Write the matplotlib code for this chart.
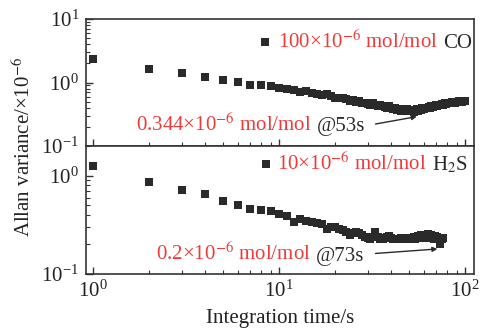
import matplotlib
matplotlib.use("Agg")
import matplotlib.pyplot as plt
from matplotlib.ticker import LogLocator, NullFormatter

plt.rcParams['font.family'] = ['Liberation Serif', 'DejaVu Serif']
plt.rcParams['mathtext.fontset'] = 'stix'

# ---------------- data ----------------
co_time = list(range(1, 101))
co_allan = [2.36, 1.66, 1.39, 1.23, 1.11, 1.03, 0.92, 0.91, 0.875, 0.81,
            0.78, 0.76, 0.72, 0.73, 0.69, 0.66, 0.64, 0.65, 0.61, 0.58,
            0.56, 0.57, 0.55, 0.52, 0.53, 0.50, 0.51, 0.48, 0.47, 0.46,
            0.45, 0.47, 0.44, 0.43, 0.45, 0.42, 0.41, 0.40, 0.42, 0.39,
            0.38, 0.40, 0.37, 0.38, 0.36, 0.38, 0.37, 0.36, 0.38, 0.36,
            0.37, 0.36, 0.344, 0.37, 0.38, 0.36, 0.38, 0.37, 0.39, 0.38,
            0.40, 0.39, 0.40, 0.41, 0.40, 0.42, 0.41, 0.43, 0.42, 0.44,
            0.43, 0.44, 0.45, 0.44, 0.46, 0.45, 0.46, 0.47, 0.46, 0.47,
            0.48, 0.47, 0.48, 0.47, 0.49, 0.48, 0.49, 0.48, 0.50, 0.49,
            0.50, 0.49, 0.51, 0.50, 0.52, 0.50, 0.51, 0.52, 0.51, 0.52]

h2s_time = list(range(1, 77))
h2s_allan = [1.27, 0.87, 0.72, 0.65, 0.56, 0.51, 0.46, 0.45, 0.44, 0.41,
             0.39, 0.34, 0.365, 0.35, 0.34, 0.33, 0.32, 0.29, 0.30, 0.30,
             0.29, 0.28, 0.27, 0.25, 0.26, 0.27, 0.26, 0.25, 0.24, 0.235,
             0.23, 0.24, 0.27, 0.24, 0.23, 0.225, 0.235, 0.24, 0.245, 0.235,
             0.23, 0.225, 0.23, 0.23, 0.235, 0.225, 0.23, 0.235, 0.23, 0.225,
             0.23, 0.235, 0.24, 0.23, 0.235, 0.245, 0.24, 0.25, 0.235, 0.245,
             0.25, 0.24, 0.255, 0.245, 0.235, 0.25, 0.24, 0.23, 0.245, 0.235,
             0.24, 0.225, 0.20, 0.225, 0.23, 0.235]

co_legend = [("100×10$^{-6}$ mol/mol", "red"), ("CO", "black")]
h2s_legend = [("10×10$^{-6}$ mol/mol", "red"), ("H$_2$S", "black")]
co_note = [("0.344×10$^{-6}$ mol/mol", "red"), ("@53s", "black")]
h2s_note = [("0.2×10$^{-6}$ mol/mol", "red"), ("@73s", "black")]

RED = '#f03a3a'
DARK = '#2a2a2a'
COLMAP = {"red": RED, "black": DARK}
FS = 15

W, H = 482, 334
fig = plt.figure(figsize=(W / 100, H / 100), dpi=100)

def fr(x, y):
    return x / W, 1 - y / H

ax1 = fig.add_axes([86 / W, 1 - 146 / H, (474 - 86) / W, 127 / H])
ax2 = fig.add_axes([86 / W, 1 - 274 / H, (474 - 86) / W, 128 / H])

for ax in (ax1, ax2):
    ax.set_xscale('log')
    ax.set_yscale('log')
    ax.set_xlim(0.917, 111.7)
    for s in ax.spines.values():
        s.set_color('#333333')
        s.set_linewidth(1.2)
    ax.tick_params(which='both', direction='in', top=False, right=False,
                   labelsize=FS, colors='#333333', labelcolor='#222222')
    ax.tick_params(which='major', length=5, width=1.0, pad=5)
    ax.tick_params(which='minor', length=3, width=0.8)
    ax.xaxis.set_major_locator(LogLocator(base=10, numticks=10))
    ax.xaxis.set_minor_locator(LogLocator(base=10, subs=range(2, 10), numticks=10))
    ax.yaxis.set_minor_locator(LogLocator(base=10, subs=range(2, 10), numticks=10))
    ax.xaxis.set_minor_formatter(NullFormatter())
    ax.yaxis.set_minor_formatter(NullFormatter())

ax1.set_ylim(0.1, 10)
ax2.set_ylim(0.1, 2.02)
ax1.tick_params(axis='x', labelbottom=False)

MS = 5.2
ax1.plot(co_time, co_allan, linestyle='none', marker='s', markersize=MS,
         color=DARK, markeredgewidth=0)
ax2.plot(h2s_time, h2s_allan, linestyle='none', marker='s', markersize=MS,
         color=DARK, markeredgewidth=0)

fig.canvas.draw()
renderer = fig.canvas.get_renderer()

def seq_text(x_px, y_px, parts, size, gap_px=5):
    x, y = fr(x_px, y_px)
    for s, c in parts:
        t = fig.text(x, y, s, color=COLMAP[c], fontsize=size, ha='left', va='baseline')
        bb = t.get_window_extent(renderer)
        x = x + (bb.width + gap_px) / fig.bbox.width

# legends
for lx, ly in ((265, 42), (266, 164)):
    fx, fy = fr(lx, ly)
    fig.lines.append(plt.Line2D([fx], [fy], marker='s', markersize=MS, color=DARK,
                                markeredgewidth=0, transform=fig.transFigure))
seq_text(278, 47.5, co_legend, FS)
seq_text(277, 170.5, h2s_legend, FS)

# annotations
seq_text(136, 131, co_note, FS)
seq_text(156, 260.5, h2s_note, FS)

ax1.annotate('', xy=(55, 0.29), xytext=(33, 0.222),
             arrowprops=dict(arrowstyle='-|>', color=DARK, lw=1.0,
                             mutation_scale=7, shrinkA=0, shrinkB=0))
ax2.annotate('', xy=(71, 0.18), xytext=(33, 0.162),
             arrowprops=dict(arrowstyle='-|>', color=DARK, lw=1.0,
                             mutation_scale=7, shrinkA=0, shrinkB=0))

fig.text(24 / W, 1 - 147 / H, 'Allan variance/×10$^{-6}$', rotation=90, ha='center',
         va='center', fontsize=FS, color='#222222')
fig.text(280 / W, 1 - 318 / H, 'Integration time/s', ha='center', va='center',
         fontsize=FS, color='#222222')

fig.savefig('out.png', dpi=100)
